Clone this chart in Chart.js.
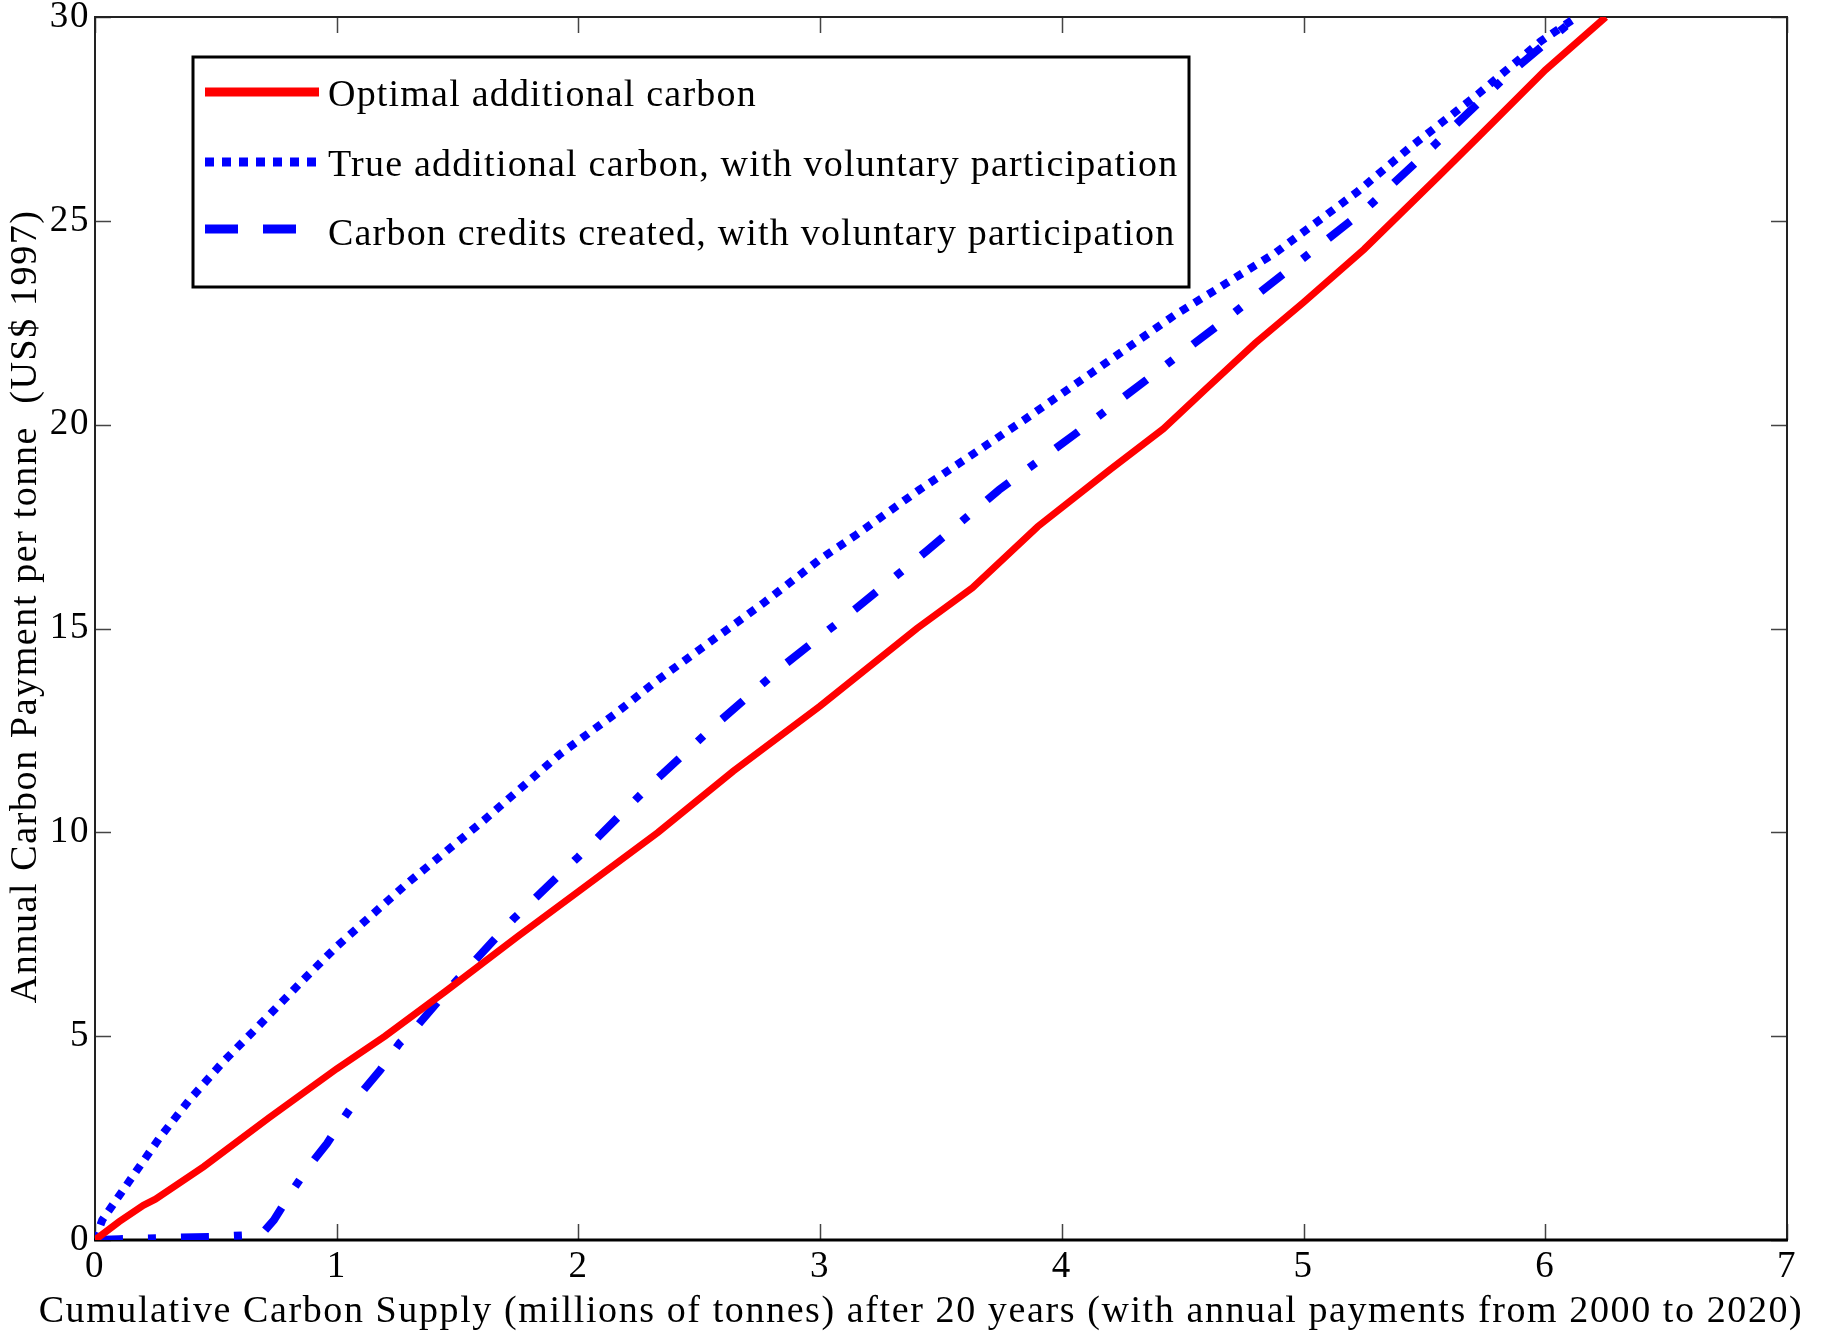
<!DOCTYPE html>
<html>
<head>
<meta charset="utf-8">
<script src="https://cdn.jsdelivr.net/npm/chart.js@4.4.1/dist/chart.umd.min.js"></script>
<style>
  html, body { margin: 0; padding: 0; background: #fff; }
  #wrap { width: 1823px; height: 1335px; }
</style>
</head>
<body>
<div id="wrap"><canvas id="chart" width="1823" height="1335"></canvas></div>
<script>
// series (x in millions of tonnes, y in US$ per tonne)
const optimalX = [0, 0.1, 0.2, 0.25, 0.45, 0.72, 1.0, 1.2, 1.45, 1.75, 2.0, 2.33, 2.64, 3.0, 3.4, 3.63, 3.9, 4.2, 4.42, 4.6, 4.8, 5.0, 5.25, 5.56, 5.73, 6.0, 6.25];
const optimalY = [0, 0.45, 0.85, 1.0, 1.8, 3.0, 4.2, 5.0, 6.1, 7.45, 8.55, 10.0, 11.5, 13.1, 15.0, 16.0, 17.5, 18.9, 19.9, 20.9, 22.0, 23.0, 24.3, 26.1, 27.1, 28.7, 30];

const trueX = [0, 0.03, 0.145, 0.27, 0.39, 0.53, 0.68, 0.875, 1.0, 1.29, 1.61, 1.92, 2.15, 2.32, 2.76, 3.0, 3.15, 3.41, 3.84, 4.13, 4.47, 4.88, 5.22, 5.44, 5.72, 5.98, 6.13];
const trueY = [0, 0.49, 1.47, 2.53, 3.43, 4.37, 5.27, 6.46, 7.2, 8.74, 10.3, 11.9, 12.9, 13.7, 15.6, 16.7, 17.3, 18.4, 20.1, 21.3, 22.7, 24.2, 25.7, 26.8, 28.1, 29.4, 30];

const creditsX = [0, 0.1, 0.3, 0.5, 0.64, 0.69, 0.74, 0.81, 0.88, 0.96, 1.03, 1.1, 1.18, 1.26, 1.34, 1.47, 1.73, 2.0, 2.28, 2.56, 2.85, 3.15, 3.44, 3.74, 4.05, 4.35, 4.66, 4.96, 5.26, 5.54, 5.83, 6.09, 6.13];
const creditsY = [0, 0.02, 0.05, 0.08, 0.12, 0.15, 0.49, 1.15, 1.77, 2.37, 3.0, 3.6, 4.17, 4.83, 5.3, 6.2, 7.87, 9.4, 11.06, 12.6, 14.1, 15.5, 16.9, 18.4, 19.75, 21.1, 22.5, 23.9, 25.3, 26.85, 28.5, 29.8, 30];

const seriesLabels = [
  'Optimal additional carbon',
  'True additional carbon, with voluntary participation',
  'Carbon credits created, with voluntary participation'
];
const xTicks = [0, 1, 2, 3, 4, 5, 6, 7];
const yTicks = [0, 5, 10, 15, 20, 25, 30];
const xTitle = 'Cumulative Carbon Supply (millions of tonnes) after 20 years (with annual payments from 2000 to 2020)';
const yTitle = 'Annual Carbon Payment per tonne  (US$ 1997)';

const FONT = 'Liberation Serif';
const pts = (xs, ys) => xs.map((x, i) => ({ x, y: ys[i] }));

// the original text is set loose, so widen the letter spacing for everything
const spacingPlugin = {
  id: 'spacing',
  beforeDraw(chart) { chart.ctx.letterSpacing = '1.6px'; }
};

// matlab-like box with inward ticks on all four sides
const boxPlugin = {
  id: 'box',
  beforeDatasetsDraw(chart) {
    const { ctx, chartArea: a, scales } = chart;
    ctx.save();
    ctx.strokeStyle = '#444';
    ctx.lineWidth = 1.5;
    const tl = 16;
    xTicks.forEach(v => {
      const px = Math.round(scales.x.getPixelForValue(v)) + 0.5;
      ctx.beginPath();
      ctx.moveTo(px, a.bottom); ctx.lineTo(px, a.bottom - tl);
      ctx.moveTo(px, a.top); ctx.lineTo(px, a.top + tl);
      ctx.stroke();
    });
    yTicks.forEach(v => {
      const py = Math.round(scales.y.getPixelForValue(v)) + 0.5;
      ctx.beginPath();
      ctx.moveTo(a.left, py); ctx.lineTo(a.left + tl, py);
      ctx.moveTo(a.right, py); ctx.lineTo(a.right - tl, py);
      ctx.stroke();
    });
    ctx.strokeStyle = '#222';
    ctx.lineWidth = 2;
    ctx.beginPath();
    ctx.moveTo(a.left, a.bottom); ctx.lineTo(a.left, a.top);
    ctx.lineTo(a.right, a.top); ctx.lineTo(a.right, a.bottom);
    ctx.stroke();
    ctx.strokeStyle = '#000';
    ctx.lineWidth = 3;
    ctx.beginPath();
    ctx.moveTo(a.left - 1, a.bottom); ctx.lineTo(a.right + 1, a.bottom);
    ctx.stroke();
    ctx.restore();
  }
};

// x title is wider than the plot, so chart.js would squeeze it: draw it here
const xTitlePlugin = {
  id: 'xTitle',
  afterDraw(chart) {
    const ctx = chart.ctx;
    ctx.save();
    ctx.letterSpacing = '1.6px';
    ctx.fillStyle = '#000';
    ctx.font = '38px "' + FONT + '"';
    ctx.textAlign = 'center';
    ctx.textBaseline = 'middle';
    ctx.fillText(xTitle, 921, 1312);
    ctx.restore();
  }
};

// boxed legend in the upper left, drawn over the lines
const legendPlugin = {
  id: 'boxLegend',
  afterDraw(chart) {
    const ctx = chart.ctx;
    const L = 193, T = 57, W = 996, H = 230;
    const rows = [92, 162, 229];
    const textRows = [96, 166, 235];
    ctx.save();
    ctx.fillStyle = '#fff';
    ctx.fillRect(L, T, W, H);
    ctx.strokeStyle = '#000';
    ctx.lineWidth = 3;
    ctx.strokeRect(L, T, W, H);
    chart.data.datasets.forEach((ds, i) => {
      ctx.strokeStyle = ds.borderColor;
      ctx.lineWidth = 9;
      ctx.lineCap = 'butt';
      ctx.setLineDash(i === 0 ? [] : (i === 1 ? [9, 8] : [33, 25]));
      ctx.beginPath();
      ctx.moveTo(205, rows[i]);
      ctx.lineTo(319, rows[i]);
      ctx.stroke();
      ctx.setLineDash([]);
      ctx.fillStyle = '#000';
      ctx.letterSpacing = '1.2px';
      ctx.font = '38px "' + FONT + '"';
      ctx.textAlign = 'left';
      ctx.textBaseline = 'middle';
      ctx.fillText(ds.label, 328, textRows[i]);
    });
    ctx.restore();
  }
};

new Chart(document.getElementById('chart').getContext('2d'), {
  type: 'line',
  data: {
    datasets: [
      {
        label: seriesLabels[0],
        data: pts(optimalX, optimalY),
        borderColor: '#ff0000',
        borderWidth: 7,
        pointRadius: 0,
        tension: 0,
        fill: false
      },
      {
        label: seriesLabels[1],
        data: pts(trueX, trueY),
        borderColor: '#0000ff',
        borderWidth: 8,
        borderDash: [8, 8],
        pointRadius: 0,
        tension: 0,
        fill: false
      },
      {
        label: seriesLabels[2],
        data: pts(creditsX, creditsY),
        borderColor: '#0000ff',
        borderWidth: 8,
        borderDash: [28, 25, 8, 25],
        pointRadius: 0,
        tension: 0,
        fill: false
      }
    ]
  },
  options: {
    responsive: false,
    animation: false,
    devicePixelRatio: 1,
    layout: { padding: { top: 17, right: 36, left: 0, bottom: 0 } },
    plugins: { legend: { display: false }, tooltip: { enabled: false } },
    scales: {
      x: {
        type: 'linear',
        min: 0, max: 7,
        afterBuildTicks: s => { s.ticks = xTicks.map(v => ({ value: v })); },
        afterFit: s => { s.height = 95; s.paddingLeft = 0; s.paddingRight = 0; },
        grid: { display: false, drawTicks: false },
        border: { display: false },
        ticks: { color: '#000', padding: 5, maxRotation: 0, font: { family: FONT, size: 37 } },
        title: { display: false }
      },
      y: {
        type: 'linear',
        min: 0, max: 30,
        afterBuildTicks: s => { s.ticks = yTicks.map(v => ({ value: v })); },
        afterFit: s => { s.width = 95; s.paddingTop = 0; s.paddingBottom = 0; },
        grid: { display: false, drawTicks: false },
        border: { display: false },
        ticks: { color: '#000', padding: 5, font: { family: FONT, size: 37 } },
        title: { display: true, text: '    ' + yTitle, color: '#000', padding: { top: 3, bottom: 0 }, font: { family: FONT, size: 38 } }
      }
    }
  },
  plugins: [spacingPlugin, boxPlugin, xTitlePlugin, legendPlugin]
});
</script>
</body>
</html>
